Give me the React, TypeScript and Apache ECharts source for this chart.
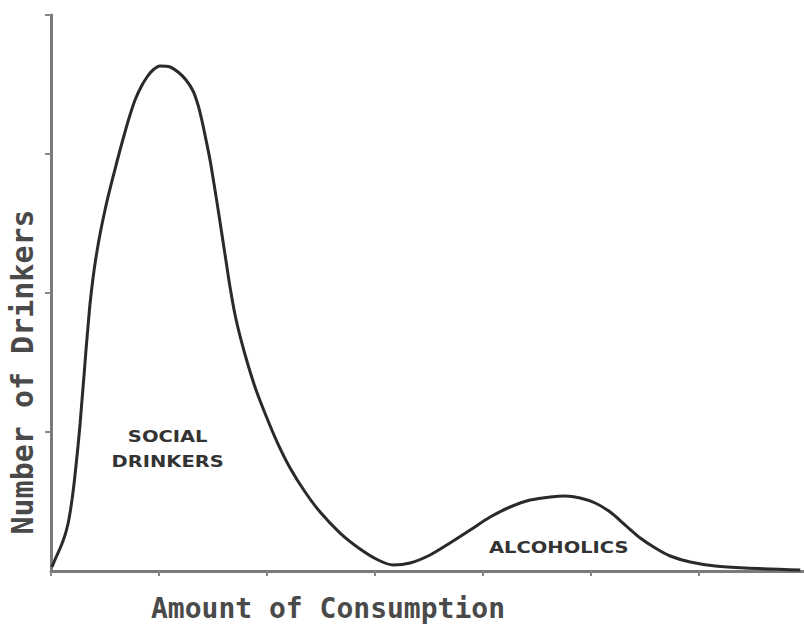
import React, { useEffect, useRef } from "react";
import * as echarts from "echarts";

// Amount of consumption (axis units, tick every 1)
const consumption = [
  0.009, 0.028, 0.056, 0.093, 0.13, 0.157, 0.176, 0.194, 0.213, 0.231, 0.25,
  0.269, 0.287, 0.306, 0.324, 0.343, 0.361, 0.389, 0.417, 0.454, 0.5, 0.546,
  0.593, 0.639, 0.685, 0.731, 0.778, 0.833, 0.889, 0.944, 1.009,
  1.102, 1.176, 1.25, 1.315, 1.361, 1.398, 1.435, 1.472, 1.509, 1.546, 1.583,
  1.62, 1.657, 1.704, 1.759, 1.824, 1.898, 1.991, 2.093, 2.213, 2.352, 2.491,
  2.676, 2.861, 3.028, 3.167,
  3.324, 3.509, 3.694, 3.88, 4.065, 4.25, 4.435, 4.62, 4.759, 4.898,
  5.037, 5.176, 5.315, 5.454, 5.593, 5.731, 5.917, 6.148, 6.426, 6.935,
];
// Number of drinkers (relative, 0-100)
const drinkers = [
  0.72, 1.62, 2.88, 4.5, 6.47, 8.45, 10.43, 12.77, 15.65, 18.88, 22.48,
  26.44, 30.76, 35.25, 39.75, 44.06, 48.02, 52.7, 56.47, 60.61, 64.93, 68.71,
  72.3, 75.72, 78.96, 82.01, 84.71, 87.05, 88.85, 90.11, 90.83,
  90.65, 89.75, 88.31, 86.33, 83.81, 80.94, 77.52, 73.92, 69.6, 65.11, 60.43,
  55.76, 51.08, 46.04, 41.55, 37.05, 32.55, 27.88, 23.2, 18.53, 14.21, 10.61,
  6.83, 3.96, 1.98, 1.08,
  1.44, 2.88, 5.04, 7.37, 9.71, 11.51, 12.77, 13.31, 13.49, 13.13,
  12.23, 10.61, 8.27, 5.94, 4.14, 2.7, 1.62, 0.9, 0.54, 0.18,
];
const xTicks = [0, 1, 2, 3, 4, 5, 6];
const yTicks = [25, 50, 75, 100];
const xTitle = "Amount of Consumption";
const yTitle = "Number of Drinkers";
const groupLabelText = ["SOCIAL\nDRINKERS", "ALCOHOLICS"];
const groupLabelX = [1.08, 4.7];
const groupLabelY = [21.8, 4.2];

export default function App() {
  const ref = useRef<HTMLDivElement>(null);
  useEffect(() => {
    if (!ref.current) return;
    document.body.style.margin = "0";
    const chart = echarts.init(ref.current, null, { renderer: "svg" });
    const data = consumption.map((x, i) => [x, drinkers[i]]);
    chart.setOption({
      animation: false,
      backgroundColor: "#ffffff",
      grid: { left: 51, top: 15, right: 0, bottom: 61 },
      xAxis: {
        type: "value",
        min: 0,
        max: 6.97,
        interval: 1,
        splitLine: { show: false },
        axisLine: { show: true, lineStyle: { color: "#7a7a7a", width: 3 } },
        axisTick: {
          show: true,
          customValues: xTicks,
          length: 5,
          lineStyle: { color: "#888", width: 2 },
        },
        axisLabel: { show: false },
      },
      yAxis: {
        type: "value",
        min: 0,
        max: 100,
        interval: 25,
        splitLine: { show: false },
        axisLine: { show: true, lineStyle: { color: "#7a7a7a", width: 3 } },
        axisTick: {
          show: true,
          customValues: yTicks,
          length: 6,
          lineStyle: { color: "#888", width: 2 },
        },
        axisLabel: { show: false },
      },
      series: [
        {
          type: "line",
          data,
          smooth: 0.3,
          showSymbol: false,
          lineStyle: { color: "#2a2a2a", width: 3 },
          z: 3,
        },
      ],
    });
    const labelEls = groupLabelText.map((t, i) => {
      const [px, py] = chart.convertToPixel({ gridIndex: 0 }, [
        groupLabelX[i],
        groupLabelY[i],
      ]) as number[];
      return {
        type: "text",
        id: "group-label-" + i,
        x: px,
        y: py,
        scaleX: 1.3,
        style: {
          text: t,
          fontFamily: "DejaVu Sans",
          fontWeight: "bold",
          fontSize: 15,
          lineHeight: 25,
          fill: "#333",
          align: "center",
          verticalAlign: "middle",
        },
      };
    });
    chart.setOption({
      graphic: [
        {
          type: "text",
          id: "x-title",
          x: 328,
          y: 608,
          style: {
            text: xTitle,
            fontFamily: "DejaVu Sans Mono",
            fontWeight: "bold",
            fontSize: 28,
            fill: "#4a4a4a",
            align: "center",
            verticalAlign: "middle",
          },
        },
        {
          type: "text",
          id: "y-title",
          x: 22,
          y: 372,
          rotation: Math.PI / 2,
          style: {
            text: yTitle,
            fontFamily: "DejaVu Sans Mono",
            fontWeight: "bold",
            fontSize: 30,
            fill: "#4a4a4a",
            align: "center",
            verticalAlign: "middle",
          },
        },
        ...labelEls,
      ],
    });
    return () => chart.dispose();
  }, []);
  return <div ref={ref} style={{ width: 804, height: 632 }} />;
}
